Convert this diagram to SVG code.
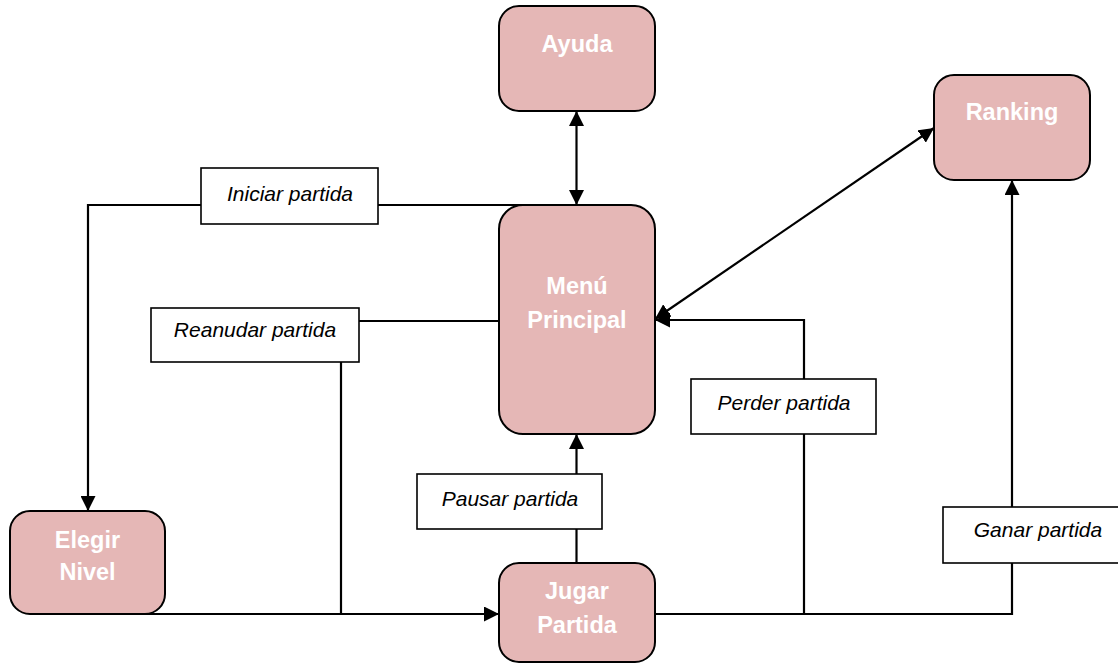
<svg xmlns="http://www.w3.org/2000/svg" width="1118" height="664" viewBox="0 0 1118 664">
  <style>
    .node { fill: #E5B7B6; stroke: #000; stroke-width: 2; }
    .title { font-family: "Liberation Sans", Arial, sans-serif; font-weight: bold; font-size: 23.5px; fill: #FFFFFF; text-anchor: middle; }
    .wire { fill: none; stroke: #000; stroke-width: 2.2; }
    .lbox { fill: #FFFFFF; stroke: #000; stroke-width: 1.6; }
    .ltext { font-family: "Liberation Sans", Arial, sans-serif; font-style: italic; font-size: 21px; fill: #000; text-anchor: middle; }
  </style>
  <defs>
    <marker id="arrow" viewBox="0 0 10 10" refX="10" refY="5" markerUnits="userSpaceOnUse" markerWidth="15" markerHeight="15" orient="auto-start-reverse">
      <path d="M0,0 L10,5 L0,10 z" fill="#000"/>
    </marker>
  </defs>

  <rect width="1118" height="664" fill="#FFFFFF"/>

  <!-- connectors -->
  <g id="connectors">
    <!-- Ayuda <-> Menú Principal -->
    <line class="wire" x1="576.5" y1="111" x2="576.5" y2="205" marker-start="url(#arrow)" marker-end="url(#arrow)"/>
    <!-- Menú Principal -> Elegir Nivel (Iniciar partida) -->
    <path class="wire" d="M576.5,205 H88 V511" marker-end="url(#arrow)"/>
    <!-- Elegir Nivel -> Jugar Partida -->
    <path class="wire" d="M88,614 H499" marker-end="url(#arrow)"/>
    <!-- Menú Principal -> Jugar Partida (Reanudar partida) -->
    <path class="wire" d="M499,321 H341 V614"/>
    <!-- Jugar Partida -> Menú Principal (Pausar partida) -->
    <path class="wire" d="M576.5,563 V434" marker-end="url(#arrow)"/>
    <!-- Jugar Partida -> Menú Principal (Perder partida) -->
    <path class="wire" d="M655,614 H804 V320 H655" marker-end="url(#arrow)"/>
    <!-- Jugar Partida -> Ranking (Ganar partida) -->
    <path class="wire" d="M804,614 H1012 V180" marker-end="url(#arrow)"/>
    <!-- Menú Principal <-> Ranking -->
    <line class="wire" x1="655" y1="319" x2="934" y2="128" marker-start="url(#arrow)" marker-end="url(#arrow)"/>
  </g>

  <!-- connector labels -->
  <g id="labels">
    <g id="lbl-iniciar">
      <rect class="lbox" x="201" y="168" width="177" height="56"/>
      <text class="ltext" x="290" y="201">Iniciar partida</text>
    </g>
    <g id="lbl-reanudar">
      <rect class="lbox" x="151" y="308" width="208" height="54"/>
      <text class="ltext" x="255" y="337">Reanudar partida</text>
    </g>
    <g id="lbl-pausar">
      <rect class="lbox" x="417" y="474" width="185" height="55"/>
      <text class="ltext" x="510" y="506">Pausar partida</text>
    </g>
    <g id="lbl-perder">
      <rect class="lbox" x="691" y="379" width="185" height="55"/>
      <text class="ltext" x="784" y="410">Perder partida</text>
    </g>
    <g id="lbl-ganar">
      <rect class="lbox" x="943" y="507" width="180" height="56"/>
      <text class="ltext" x="1038" y="537">Ganar partida</text>
    </g>
  </g>

  <!-- nodes -->
  <g id="ayuda">
    <rect class="node" x="499" y="6" width="156" height="105" rx="20" ry="20"/>
    <text class="title" x="577" y="52">Ayuda</text>
  </g>
  <g id="ranking">
    <rect class="node" x="934" y="75" width="156" height="105" rx="20" ry="20"/>
    <text class="title" x="1012" y="120">Ranking</text>
  </g>
  <g id="menu-principal">
    <rect class="node" x="499" y="205" width="156" height="229" rx="24" ry="24"/>
    <text class="title" x="577" y="294">Menú</text>
    <text class="title" x="577" y="328">Principal</text>
  </g>
  <g id="elegir-nivel">
    <rect class="node" x="10" y="511" width="155" height="103" rx="20" ry="20"/>
    <text class="title" x="87.5" y="548">Elegir</text>
    <text class="title" x="87.5" y="580">Nivel</text>
  </g>
  <g id="jugar-partida">
    <rect class="node" x="499" y="563" width="156" height="99" rx="20" ry="20"/>
    <text class="title" x="577" y="599">Jugar</text>
    <text class="title" x="577" y="633">Partida</text>
  </g>
</svg>
